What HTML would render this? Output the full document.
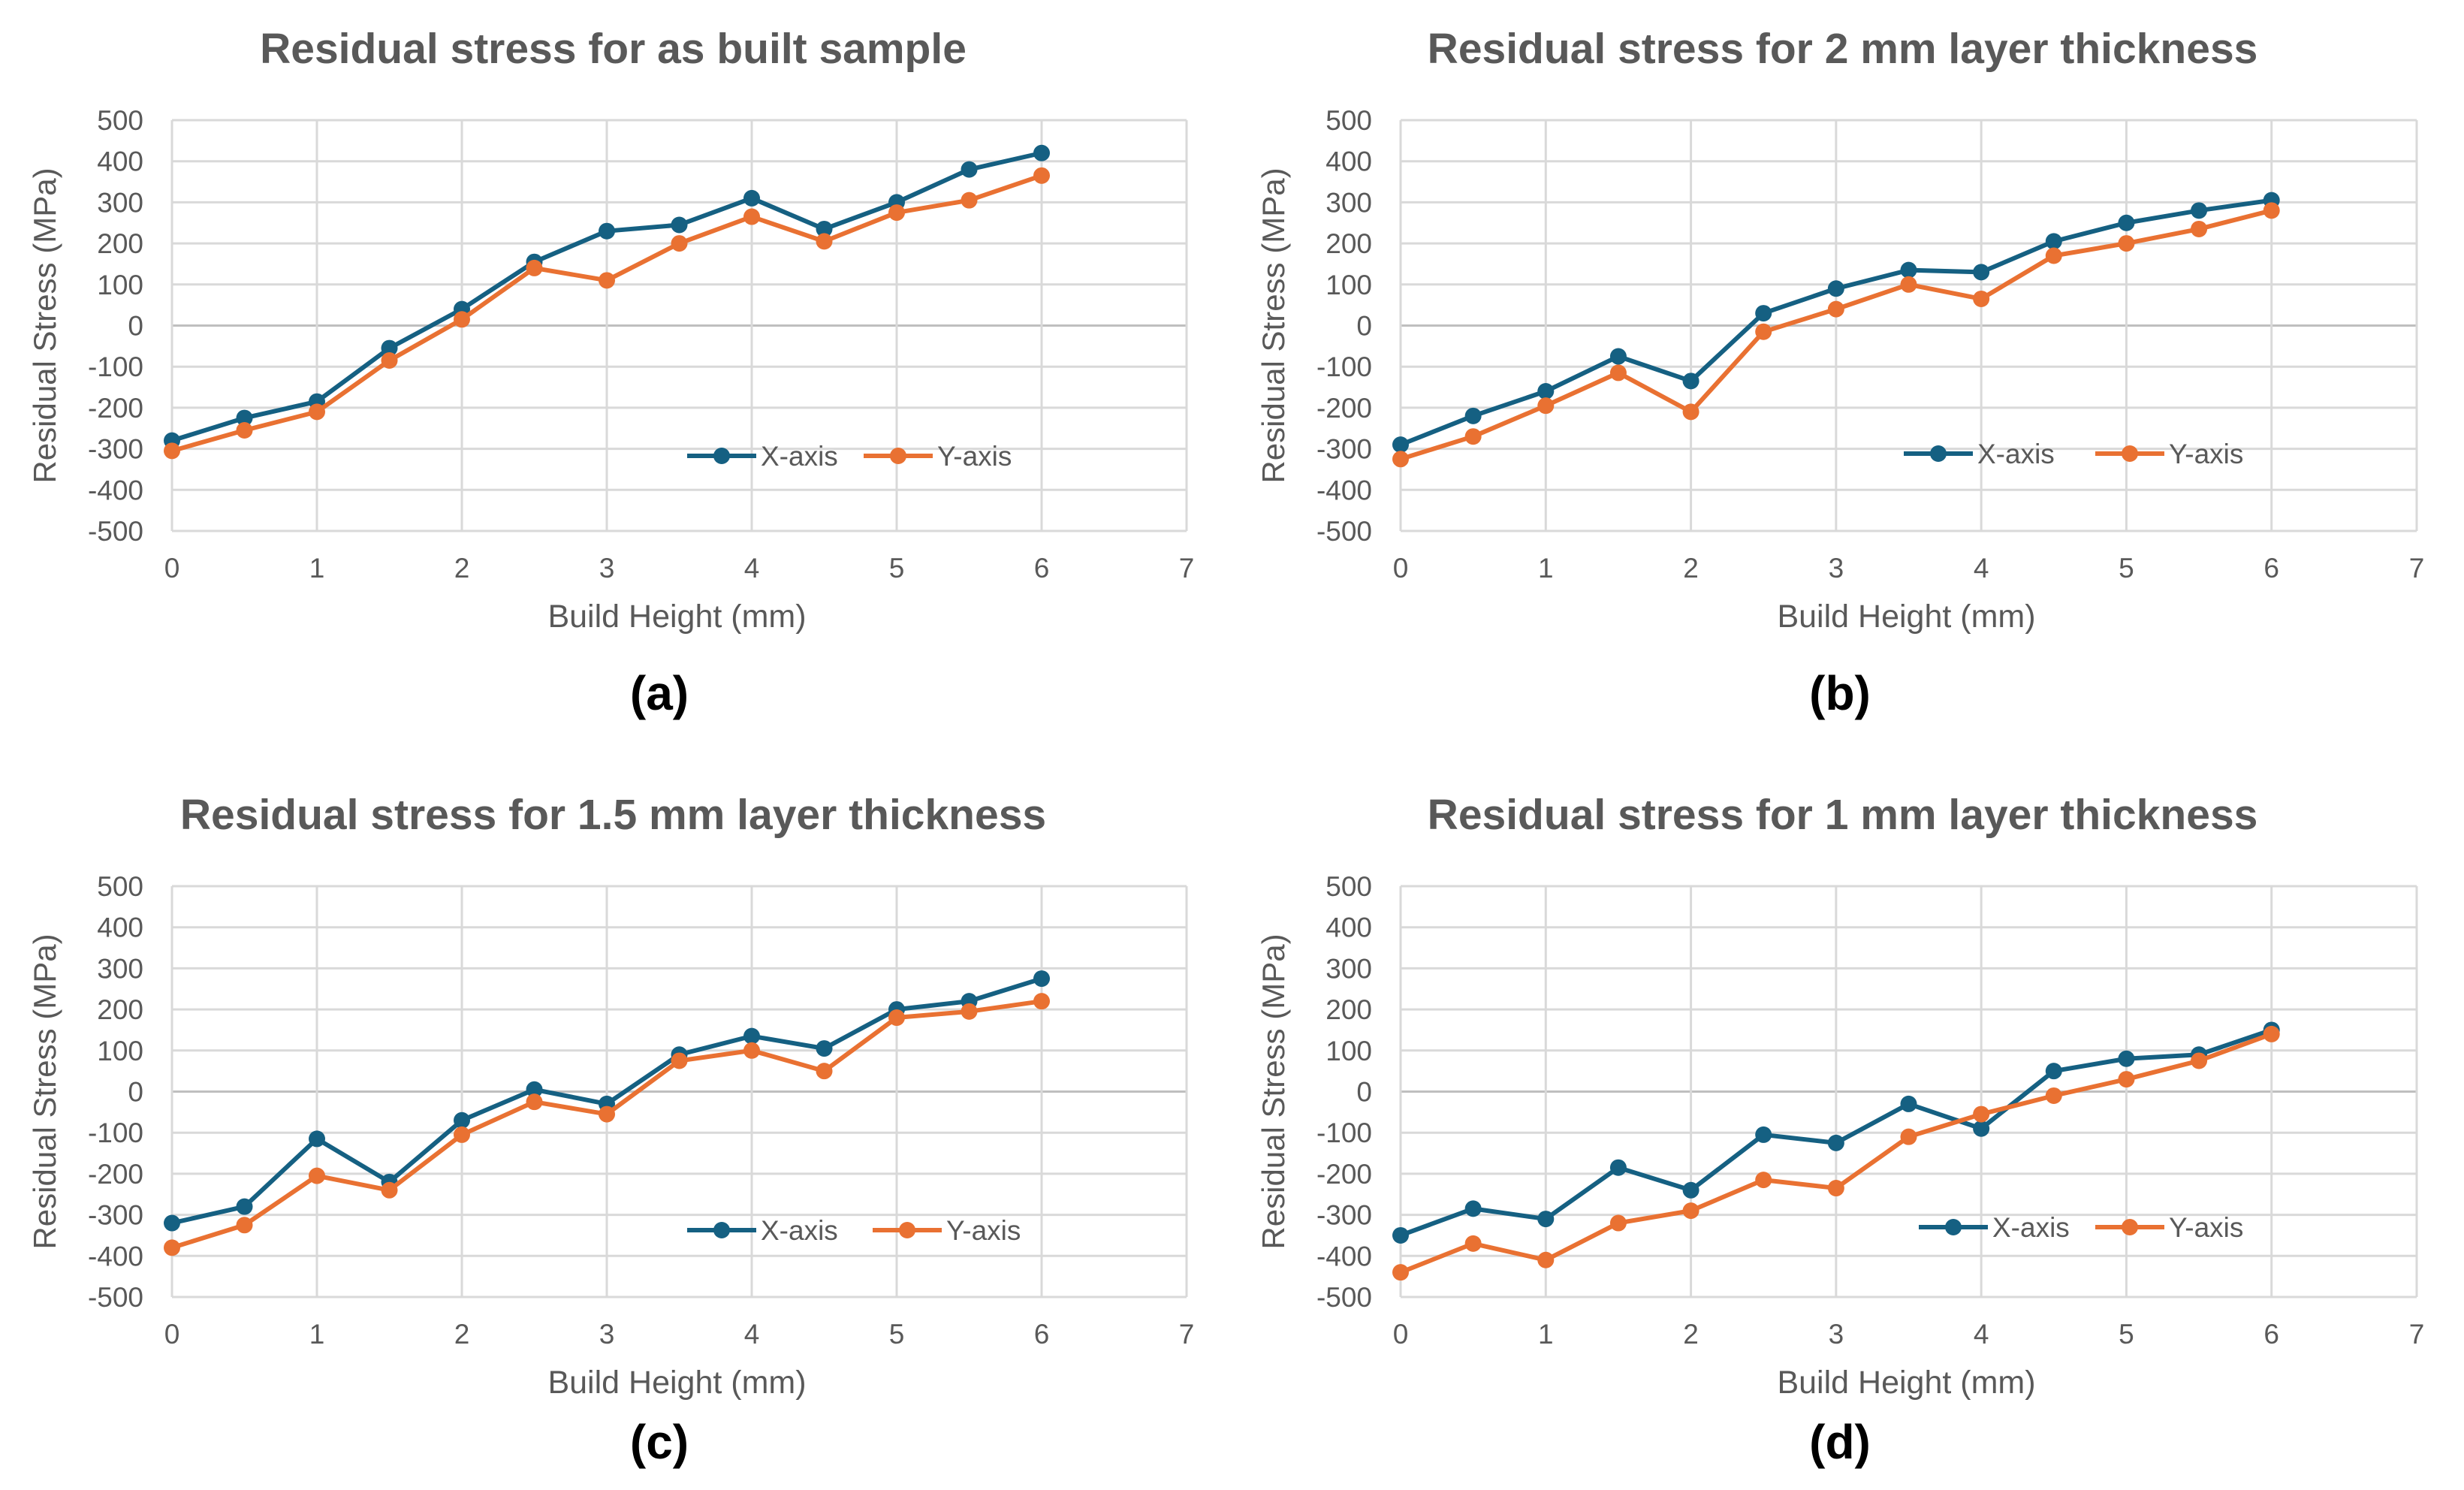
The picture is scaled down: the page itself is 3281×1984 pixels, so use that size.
<!DOCTYPE html>
<html><head><meta charset="utf-8">
<style>
html,body{margin:0;padding:0;background:#fff;}
svg{display:block;font-family:"Liberation Sans",sans-serif;}
</style></head>
<body>
<svg id="fig" width="3281" height="1984" viewBox="0 0 3281 1984" xmlns="http://www.w3.org/2000/svg"></svg>
<script>
const heights = [0,0.5,1,1.5,2,2.5,3,3.5,4,4.5,5,5.5,6];
const yTicks = [500,400,300,200,100,0,-100,-200,-300,-400,-500];
const xTicks = [0,1,2,3,4,5,6,7];
const titles = ["Residual stress for as built sample","Residual stress for 2 mm layer thickness","Residual stress for 1.5 mm layer thickness","Residual stress for 1 mm layer thickness"];
const panelLabels = ["(a)","(b)","(c)","(d)"];
const aX = [-280,-225,-185,-55,40,155,230,245,310,235,300,380,420];
const aY = [-305,-255,-210,-85,15,140,110,200,265,205,275,305,365];
const bX = [-290,-220,-160,-75,-135,30,90,135,130,205,250,280,305];
const bY = [-325,-270,-195,-115,-210,-15,40,100,65,170,200,235,280];
const cX = [-320,-280,-115,-220,-70,5,-30,90,135,105,200,220,275];
const cY = [-380,-325,-205,-240,-105,-25,-55,75,100,50,180,195,220];
const dX = [-350,-285,-310,-185,-240,-105,-125,-30,-90,50,80,90,150];
const dY = [-440,-370,-410,-320,-290,-215,-235,-110,-55,-10,30,75,140];

const svg = document.getElementById('fig');
const NS = 'http://www.w3.org/2000/svg';
function mk(tag, attrs, parent){const e=document.createElementNS(NS,tag);for(const k in attrs)e.setAttribute(k,attrs[k]);(parent||svg).appendChild(e);return e;}
const BLUE='#156082', ORANGE='#E97132', TXT='#595959';

const layouts = [
 {l:229,r:1580,t:160,b:707,titleY:84,labX:878,labY:945,legY:607,legX:[915,1150],seriesX:aX,seriesY:aY,key:'a'},
 {l:1865,r:3218,t:160,b:707,titleY:84,labX:2450,labY:945,legY:604,legX:[2535,2790],seriesX:bX,seriesY:bY,key:'b'},
 {l:229,r:1580,t:1180,b:1727,titleY:1104,labX:878,labY:1942,legY:1638,legX:[915,1162],seriesX:cX,seriesY:cY,key:'c'},
 {l:1865,r:3218,t:1180,b:1727,titleY:1104,labX:2450,labY:1942,legY:1634,legX:[2555,2790],seriesX:dX,seriesY:dY,key:'d'}
];

layouts.forEach((p,i)=>{
  const g = mk('g',{});
  
  
  const xs = v => p.l + (v-0)/(7-0)*(p.r-p.l);
  const ys = v => p.b - (v+500)/1000*(p.b-p.t);
  const cx = (p.l+p.r)/2;
  const t = mk('text',{x:cx-88,y:p.titleY,'text-anchor':'middle','font-size':57,'font-weight':'bold',fill:TXT},g);
  t.textContent = titles[i];
  
  
  yTicks.forEach(v=>{
    const ln = mk('line',{x1:p.l,x2:p.r,y1:ys(v),y2:ys(v),stroke:v===0?'#bfbfbf':'#d9d9d9','stroke-width':3},g);
    
    
    const tl = mk('text',{x:p.l-38,y:ys(v)+13,'text-anchor':'end','font-size':37,fill:TXT},g);
    tl.textContent = v;
    
    
  });
  xTicks.forEach(v=>{
    const ln = mk('line',{x1:xs(v),x2:xs(v),y1:p.t,y2:p.b,stroke:'#d9d9d9','stroke-width':3},g);
    
    
    const tl = mk('text',{x:xs(v),y:p.b+62,'text-anchor':'middle','font-size':37,fill:TXT},g);
    tl.textContent = v;
    
    
  });
  const xt = mk('text',{x:xs(3.5)-3,y:p.b+128,'text-anchor':'middle','font-size':43,fill:TXT},g);
  xt.textContent='Build Height (mm)';
  
  
  const yx = p.l-155, yy=(p.t+p.b)/2;
  const yt = mk('text',{x:yx,y:yy,'text-anchor':'middle','font-size':42,fill:TXT,transform:`rotate(-90 ${yx} ${yy})`},g);
  yt.textContent='Residual Stress (MPa)';
  
  
  [[p.seriesX,BLUE,'x-axis-series'],[p.seriesY,ORANGE,'y-axis-series']].forEach(([vals,col,nm])=>{
    const sg = mk('g',{},g);
    
    
    const pts = vals.map((v,k)=>xs(heights[k])+','+ys(v)).join(' ');
    const pl = mk('polyline',{points:pts,fill:'none',stroke:col,'stroke-width':6,'stroke-linejoin':'round'},sg);
    
    
    vals.forEach((v,k)=>{
      const c = mk('circle',{cx:xs(heights[k]),cy:ys(v),r:11,fill:col},sg);
      
      
    });
  });
  [['X-axis',BLUE,p.legX[0]],['Y-axis',ORANGE,p.legX[1]]].forEach(([lab,col,lx])=>{
    const lg = mk('g',{},g);
    
    
    mk('line',{x1:lx,x2:lx+92,y1:p.legY,y2:p.legY,stroke:col,'stroke-width':6},lg);
    mk('circle',{cx:lx+46,cy:p.legY,r:11,fill:col},lg);
    const tx = mk('text',{x:lx+98,y:p.legY+13,'font-size':37,fill:TXT},lg);
    tx.textContent = lab;
  });
  const pl = mk('text',{x:p.labX,y:p.labY,'text-anchor':'middle','font-size':64,'font-weight':'bold',fill:'#000'},g);
  pl.textContent = panelLabels[i];
  
  
});
</script>
</body></html>
